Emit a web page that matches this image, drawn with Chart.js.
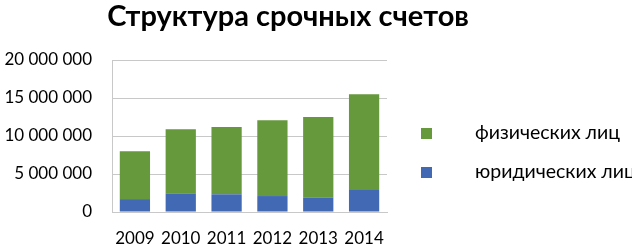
<!DOCTYPE html>
<html>
<head>
<meta charset="utf-8">
<script src="https://cdn.jsdelivr.net/npm/chart.js@4"></script>
<style>
  html, body { margin: 0; padding: 0; background: #fff; }
  #wrap { width: 632px; height: 246px; position: relative; }
</style>
</head>
<body>
<div id="wrap"><canvas id="chart"></canvas></div>
<script>
// data
const years = ["2009", "2010", "2011", "2012", "2013", "2014"];
const legalEntities = [1700000, 2460000, 2330000, 2100000, 1930000, 2900000];
const individuals = [6300000, 8440000, 8870000, 9970000, 10570000, 12600000];
const seriesNames = ["юридических лиц", "физических лиц"];
const titleText = "Структура срочных счетов";

const fontFamily = "Lato, 'Open Sans', sans-serif";

// title and right-hand legend, drawn by hand to match the original placement
const sideLegend = {
    id: "sideLegend",
    afterDraw(chart) {
        const ctx = chart.ctx;
        ctx.save();
        ctx.fillStyle = "#000";
        ctx.font = "bold 29px " + fontFamily;
        ctx.textAlign = "center";
        ctx.textBaseline = "alphabetic";
        ctx.fillText(titleText, 288, 26);

        const items = chart.data.datasets.slice().reverse();
        ctx.font = "19.5px " + fontFamily;
        ctx.textAlign = "left";
        ctx.textBaseline = "middle";
        items.forEach(function (ds, i) {
            let y = 133 + i * 39;
            ctx.fillStyle = ds.backgroundColor;
            ctx.fillRect(421, y - 5, 11, 11);
            ctx.fillStyle = "#000";
            ctx.fillText(ds.label, 475, y);
        });
        ctx.restore();
    }
};

new Chart(document.getElementById("chart"), {
    type: "bar",
    data: {
        labels: years,
        datasets: [{
            label: seriesNames[0],
            data: legalEntities,
            backgroundColor: "#4169b4",
            categoryPercentage: 0.66,
            barPercentage: 1
        }, {
            label: seriesNames[1],
            data: individuals,
            backgroundColor: "#66993c",
            categoryPercentage: 0.66,
            barPercentage: 1
        }]
    },
    options: {
        responsive: true,
        maintainAspectRatio: false,
        animation: false,
        layout: { padding: { left: 0, right: 245, top: 60, bottom: 0 } },
        plugins: {
            legend: { display: false },
            tooltip: { enabled: false },
            title: { display: false }
        },
        scales: {
            x: {
                stacked: true,
                grid: { display: false },
                border: { display: true, color: "#c8c8c8" },
                ticks: { color: "#000", font: { family: fontFamily, size: 17 }, padding: 8, maxRotation: 0 },
                afterFit: function (scale) { scale.height = 34; }
            },
            y: {
                stacked: true,
                min: 0,
                max: 20000000,
                grid: { color: "#c8c8c8", drawTicks: false },
                border: { display: true, color: "#c8c8c8" },
                ticks: {
                    stepSize: 5000000,
                    color: "#000",
                    padding: 20,
                    font: { family: fontFamily, size: 17 },
                    callback: function (v) {
                        return String(v).replace(/\B(?=(\d{3})+(?!\d))/g, " ");
                    }
                },
                afterFit: function (scale) { scale.width = 112; }
            }
        }
    },
    plugins: [sideLegend]
});
</script>
</body>
</html>
